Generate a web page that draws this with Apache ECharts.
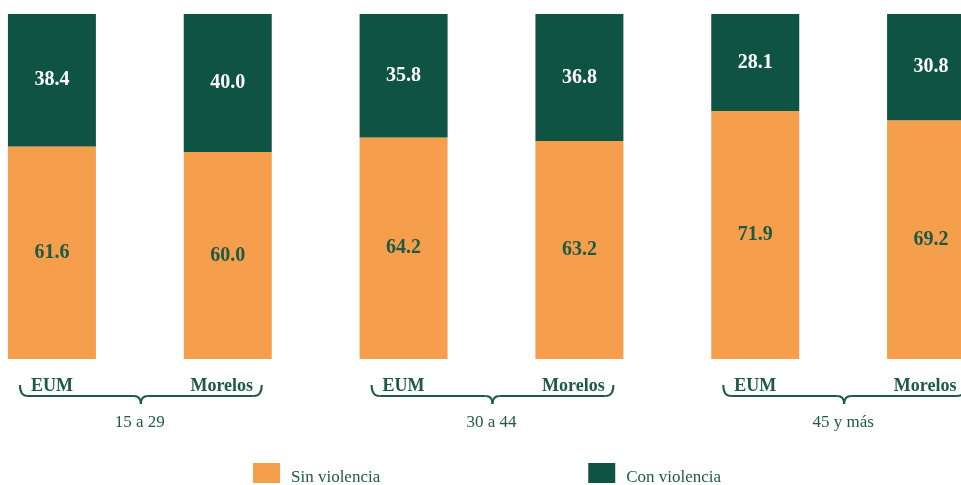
<!DOCTYPE html>
<html><head><meta charset="utf-8">
<script src="https://cdn.jsdelivr.net/npm/echarts@6/dist/echarts.min.js"></script>
<style>html,body{margin:0;padding:0;background:#fff;overflow:hidden;width:961px;height:485px;position:relative}
#c{position:absolute;left:-36px;top:0;width:1055px;height:485px}</style>
</head><body><div id="c"></div>
<script>
var categories = ['EUM','Morelos','EUM','Morelos','EUM','Morelos'];
var groups = ['15 a 29','30 a 44','45 y más'];
var sinViolencia = [61.6, 60.0, 64.2, 63.2, 71.9, 69.2];
var conViolencia = [38.4, 40.0, 35.8, 36.8, 28.1, 30.8];

var ORANGE = '#F59E4B', GREEN = '#0F5443', TXT = '#1D5A46';
var FONT = '"Liberation Serif", "Times New Roman", serif';
var OFF = 36;
var chart = echarts.init(document.getElementById('c'));
var catData = categories.map(function (c) {
  return c === 'Morelos' ? { value: c, textStyle: { padding: [0, 12, 0, 0] } } : c;
});
var option = {
  animation: false,
  grid: { left: 0, right: 0, top: 14, bottom: 126 },
  legend: {
    left: 248 + OFF, top: 458, itemWidth: 27, itemHeight: 20, itemGap: 208,
    icon: 'rect',
    formatter: function (n) { return '{t|' + n + '}'; },
    textStyle: { fontFamily: FONT, fontSize: 17, color: TXT,
      rich: { t: { fontFamily: FONT, fontSize: 17, color: TXT, padding: [9, 0, 0, 6] } } },
    data: ['Sin violencia', 'Con violencia']
  },
  xAxis: [{
    type: 'category', data: catData, gridIndex: 0,
    axisLine: { show: false }, axisTick: { show: false },
    axisLabel: { margin: 18, fontFamily: FONT, fontWeight: 'bold', fontSize: 18, color: TXT }
  }, {
    type: 'category', data: groups, gridIndex: 0, position: 'bottom',
    axisLine: { show: false }, axisTick: { show: false },
    axisLabel: { margin: 55, fontFamily: FONT, fontSize: 17, color: TXT }
  }],
  yAxis: { type: 'value', min: 0, max: 100, show: false, splitLine: { show: false } },
  series: [{
    name: 'Sin violencia', type: 'bar', stack: 't', barWidth: 88, data: sinViolencia,
    itemStyle: { color: ORANGE },
    label: { show: true, position: 'inside', fontFamily: FONT, fontWeight: 'bold', fontSize: 20, color: TXT,
      formatter: function(p){ return p.value.toFixed(1); } }
  }, {
    name: 'Con violencia', type: 'bar', stack: 't', barWidth: 88, data: conViolencia,
    itemStyle: { color: GREEN },
    label: { show: true, position: 'inside', fontFamily: FONT, fontWeight: 'bold', fontSize: 20, color: '#fff',
      formatter: function(p){ return p.value.toFixed(1); } }
  }]
};
chart.setOption(option);

// braces under each group
var els = [];
var st = { stroke: TXT, lineWidth: 2, fill: null };
for (var g = 0; g < groups.length; g++) {
  var c1 = chart.convertToPixel({ xAxisIndex: 0 }, 2*g);
  var c2 = chart.convertToPixel({ xAxisIndex: 0 }, 2*g+1);
  var L = c1 - 32, R = c2 + 34, C = (L + R) / 2;
  var yTop = 385, yL = 396, yTip = 404;
  els.push({ type: 'bezierCurve', shape: { x1: L, y1: yTop, x2: L+8, y2: yL, cpx1: L, cpy1: yL }, style: st });
  els.push({ type: 'line', shape: { x1: L+8, y1: yL, x2: C-7, y2: yL }, style: st });
  els.push({ type: 'bezierCurve', shape: { x1: C-7, y1: yL, x2: C, y2: yTip, cpx1: C, cpy1: yL }, style: st });
  els.push({ type: 'bezierCurve', shape: { x1: C, y1: yTip, x2: C+7, y2: yL, cpx1: C, cpy1: yL }, style: st });
  els.push({ type: 'line', shape: { x1: C+7, y1: yL, x2: R-8, y2: yL }, style: st });
  els.push({ type: 'bezierCurve', shape: { x1: R-8, y1: yL, x2: R, y2: yTop, cpx1: R, cpy1: yL }, style: st });
}
chart.setOption({ graphic: els });
</script></body></html>
